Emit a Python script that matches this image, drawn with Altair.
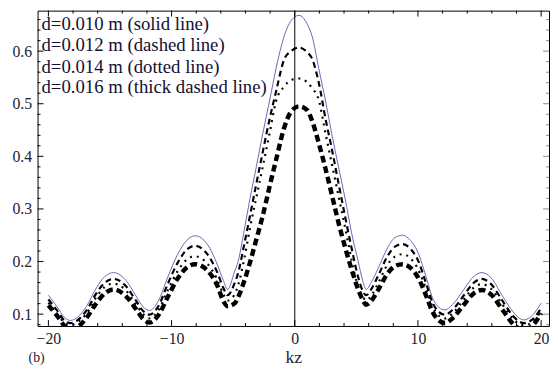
import altair as alt
import pandas as pd

# ---- data ----
kz = [-20, -19.3, -18.7, -18.2, -17.5, -16.9, -16.1, -15.4, -14.7, -13.7,
      -12.9, -12.35, -11.8, -11.1, -10.3, -9.5, -8.7, -8.1, -7.1, -6.3,
      -5.8, -5.45, -4.9, -4.6, -4.1, -3.65, -3.12, -2.6, -2.05, -1.52,
      -0.85, -0.3, 0.35, 1.0, 1.4, 1.95, 2.5, 3.0, 3.55, 4.1,
      4.6, 5.15, 5.5, 5.8, 6.2, 6.75, 7.55, 8.1, 8.75, 9.4,
      9.95, 10.75, 11.15, 11.7, 12.2, 12.8, 13.7, 14.5, 15.2, 15.9,
      16.9, 17.7, 18.6, 19.3, 20]

solid = [0.136, 0.114, 0.094, 0.088, 0.097, 0.115, 0.150, 0.172, 0.179, 0.164,
         0.135, 0.115, 0.107, 0.124, 0.171, 0.214, 0.242, 0.249, 0.233, 0.195,
         0.164, 0.147, 0.180, 0.200, 0.260, 0.318, 0.380, 0.443, 0.505, 0.567,
         0.629, 0.658, 0.668, 0.652, 0.629, 0.567, 0.505, 0.443, 0.380, 0.318,
         0.256, 0.200, 0.165, 0.147, 0.160, 0.186, 0.227, 0.245, 0.250, 0.240,
         0.220, 0.164, 0.133, 0.113, 0.108, 0.118, 0.146, 0.171, 0.179, 0.170,
         0.133, 0.105, 0.089, 0.098, 0.121]

dashed = [0.128, 0.107, 0.088, 0.083, 0.091, 0.107, 0.140, 0.160, 0.167, 0.153,
          0.126, 0.107, 0.099, 0.114, 0.158, 0.198, 0.224, 0.230, 0.214, 0.180,
          0.150, 0.136, 0.158, 0.178, 0.233, 0.285, 0.348, 0.408, 0.470, 0.523,
          0.585, 0.600, 0.607, 0.598, 0.586, 0.540, 0.471, 0.415, 0.349, 0.284,
          0.227, 0.170, 0.145, 0.136, 0.147, 0.172, 0.211, 0.228, 0.233, 0.224,
          0.205, 0.152, 0.124, 0.104, 0.099, 0.108, 0.135, 0.159, 0.167, 0.158,
          0.124, 0.097, 0.083, 0.090, 0.111]

dotted = [0.122, 0.101, 0.084, 0.079, 0.087, 0.101, 0.133, 0.152, 0.158, 0.145,
          0.119, 0.101, 0.092, 0.106, 0.146, 0.182, 0.205, 0.210, 0.196, 0.166,
          0.138, 0.126, 0.137, 0.155, 0.205, 0.262, 0.322, 0.380, 0.443, 0.505,
          0.533, 0.545, 0.548, 0.541, 0.530, 0.507, 0.443, 0.387, 0.325, 0.263,
          0.205, 0.150, 0.134, 0.126, 0.135, 0.158, 0.195, 0.209, 0.214, 0.206,
          0.188, 0.142, 0.116, 0.097, 0.092, 0.101, 0.127, 0.150, 0.157, 0.149,
          0.117, 0.091, 0.079, 0.085, 0.106]

thick = [0.117, 0.097, 0.078, 0.070, 0.078, 0.093, 0.121, 0.140, 0.147, 0.134,
         0.110, 0.092, 0.084, 0.097, 0.133, 0.168, 0.190, 0.195, 0.183, 0.155,
         0.125, 0.115, 0.120, 0.132, 0.163, 0.197, 0.242, 0.287, 0.342, 0.393,
         0.455, 0.485, 0.495, 0.488, 0.468, 0.425, 0.376, 0.328, 0.274, 0.226,
         0.186, 0.147, 0.128, 0.118, 0.125, 0.145, 0.178, 0.191, 0.195, 0.188,
         0.172, 0.130, 0.106, 0.088, 0.083, 0.092, 0.117, 0.139, 0.146, 0.138,
         0.107, 0.082, 0.070, 0.078, 0.102]

legend_lines = ["d=0.010 m (solid line)",
                "d=0.012 m (dashed line)",
                "d=0.014 m (dotted line)",
                "d=0.016  m (thick dashed line)"]

x_major = [-20, -10, 0, 10, 20]
x_minor = [-18, -16, -14, -12, -8, -6, -4, -2, 2, 4, 6, 8, 12, 14, 16, 18]
y_major = [0.1, 0.2, 0.3, 0.4, 0.5, 0.6]
y_minor = [0.08, 0.12, 0.14, 0.16, 0.18, 0.22, 0.24, 0.26, 0.28, 0.32, 0.34,
           0.36, 0.38, 0.42, 0.44, 0.46, 0.48, 0.52, 0.54, 0.56, 0.58, 0.62,
           0.64, 0.66]

# ---- layout ----
W, H = 519, 320
XDOM = [-20.88, 20.64]
YDOM = [0.0775, 0.677]
FONT = "Liberation Serif"

xs = alt.Scale(domain=XDOM, nice=False, zero=False)
ys = alt.Scale(domain=YDOM, nice=False, zero=False)

x_axis = alt.Axis(values=x_major, ticks=False, domain=False, grid=False,
                  labelFont=FONT, labelFontSize=16, labelColor="#222233",
                  labelPadding=5, title="kz", titleFont=FONT,
                  titleFontSize=18, titleFontWeight="normal",
                  titleColor="#222233", titlePadding=2)
y_axis = alt.Axis(values=y_major, ticks=False, domain=False, grid=False,
                  labelFont=FONT, labelFontSize=16, labelColor="#222233",
                  labelPadding=6, title=None, format=".1f")

df = pd.DataFrame({"kz": kz, "solid": solid, "dashed": dashed,
                   "dotted": dotted, "thick": thick})
base = alt.Chart(df)


def curve(col, **style):
    return base.mark_line(clip=True, interpolate="monotone", **style).encode(
        x=alt.X("kz:Q", scale=xs, axis=x_axis, title="kz"),
        y=alt.Y(f"{col}:Q", scale=ys, axis=y_axis, title=None))


solid_line = curve("solid", color="#6868b8", strokeWidth=1)
dashed_line = curve("dashed", color="black", strokeWidth=2.2, strokeDash=[6, 4])
dotted_line = curve("dotted", color="black", strokeWidth=2.2, strokeDash=[2, 5])
thick_line = curve("thick", color="black", strokeWidth=4.5, strokeDash=[7, 4])

zero_line = alt.Chart(pd.DataFrame({"v": [0]})).mark_rule(
    color="black", strokeWidth=1).encode(
    x=alt.X("v:Q", scale=xs, axis=x_axis, title="kz"))


def xticks(values, length):
    d = pd.DataFrame({"v": values})
    bottom = alt.Chart(d).mark_rule(color="black", strokeWidth=1).encode(
        x=alt.X("v:Q", scale=xs, axis=x_axis, title="kz"),
        y=alt.value(H), y2=alt.value(H - length))
    top = alt.Chart(d).mark_rule(color="black", strokeWidth=1).encode(
        x=alt.X("v:Q", scale=xs, axis=x_axis, title="kz"),
        y=alt.value(0), y2=alt.value(length))
    return [bottom, top]


def yticks(values, length):
    d = pd.DataFrame({"v": values})
    left = alt.Chart(d).mark_rule(color="black", strokeWidth=1).encode(
        y=alt.Y("v:Q", scale=ys, axis=y_axis, title=None),
        x=alt.value(0), x2=alt.value(length))
    right = alt.Chart(d).mark_rule(color="#888888", strokeWidth=1).encode(
        y=alt.Y("v:Q", scale=ys, axis=y_axis, title=None),
        x=alt.value(W), x2=alt.value(W - length))
    return [left, right]


tick_layers = (xticks(x_major, 6) + xticks(x_minor, 3) +
               yticks(y_major, 6) + yticks(y_minor, 3))

leg_df = pd.DataFrame({"t": legend_lines, "py": [14, 35, 57, 78]})
legend = alt.Chart(leg_df).mark_text(
    align="left", baseline="middle", font=FONT, fontSize=19,
    color="#111133").encode(
    x=alt.value(4),
    y=alt.Y("py:Q", scale=None),
    text="t:N")

label_b = alt.Chart(pd.DataFrame({"t": ["(b)"]})).mark_text(
    align="center", baseline="middle", font=FONT, fontSize=14,
    color="#222233").encode(
    x=alt.value(-1), y=alt.value(353), text="t:N")

chart = alt.layer(
    solid_line, dashed_line, dotted_line, thick_line, zero_line,
    *tick_layers, legend, label_b
).properties(
    width=W, height=H,
    padding={"left": 30, "top": 0, "right": 1, "bottom": 42},
    autosize=alt.AutoSizeParams(type="none"),
    background="white"
).configure_view(
    stroke="black", strokeWidth=1
)

chart.save("out.html", embed_options={"renderer": "svg", "actions": False})
